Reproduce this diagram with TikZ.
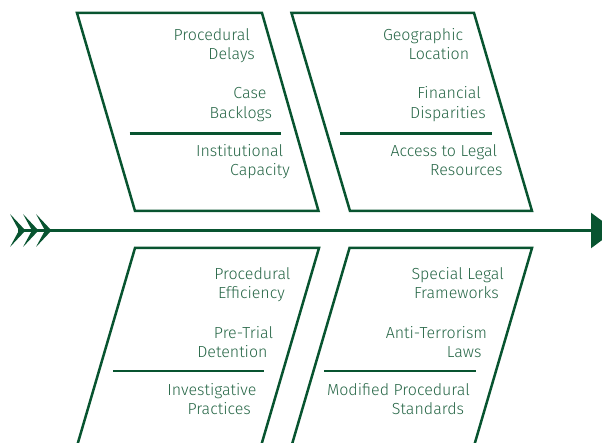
\documentclass[tikz,border=0pt]{standalone}
\usepackage{fontspec}
\setmainfont{Fira Sans}[UprightFont=* Light]
\usetikzlibrary{arrows.meta}
\definecolor{ln}{RGB}{8,84,48}
\definecolor{tx}{RGB}{38,102,70}
\tikzset{
  box/.style={draw=ln, line width=2.5pt, line join=miter},
  divider/.style={draw=ln, line width=2.5pt},
  lbl/.style={anchor=base east, inner sep=0pt, text=tx, font=\fontsize{16}{19}\selectfont},
  chev/.style={fill=ln, draw=none},
}
\begin{document}
\begin{tikzpicture}[x=1pt,y=-1pt]
\useasboundingbox (0,0) rectangle (602,443);
% category boxes
\draw[box] (77,13) -- (262,13) -- (318.5,211) -- (135,211) -- cycle;
\draw[box] (291.5,13) -- (474,13) -- (532,211) -- (350,211) -- cycle;
\draw[box] (135,248) -- (319,248) -- (261,446) -- (77,446) -- cycle;
\draw[box] (349.5,248) -- (532,248) -- (474,446) -- (291.5,446) -- cycle;
% dividers
\coordinate (d1a) at (129.5,133.3); \coordinate (d1b) at (280.7,133.3);
\coordinate (d2a) at (340,133.3);   \coordinate (d2b) at (491.7,133.3);
\coordinate (d3a) at (113,371);     \coordinate (d3b) at (264,371);
\coordinate (d4a) at (324,371);     \coordinate (d4b) at (475.7,371);
\draw[divider] (d1a) -- (d1b);
\draw[divider] (d2a) -- (d2b);
\draw[divider] (d3a) -- (d3b);
\draw[divider] (d4a) -- (d4b);
% spine
\coordinate (tail) at (18,230.5);
\coordinate (head) at (615,230.5);
\draw[ln, line width=2.5pt, -{Triangle[length=24pt,width=35pt]}] (tail) -- (head);
\foreach \x in {10,23,36}{
  \fill[chev] (\x,214) -- (\x+15.5,230.5) -- (\x,247) -- (\x+9,230.5) -- cycle;
}
% top-left labels
\node[lbl] (tl1) at (250,40.7) {Procedural};
\node[lbl] (tl2) at (255,60) {Delays};
\node[lbl] (tl3) at (266.7,99) {Case};
\node[lbl] (tl4) at (272.3,118.3) {Backlogs};
\node[lbl] (tl5) at (283.3,156.7) {Institutional};
\node[lbl] (tl6) at (290,175.7) {Capacity};
% top-right labels
\node[lbl] (tr1) at (463.3,40.7) {Geographic};
\node[lbl] (tr2) at (469.3,60) {Location};
\node[lbl] (tr3) at (481,99) {Financial};
\node[lbl] (tr4) at (486,118.3) {Disparities};
\node[lbl] (tr5) at (497.3,156.7) {Access to Legal};
\node[lbl] (tr6) at (502.7,175.7) {Resources};
% bottom-left labels
\node[lbl] (bl1) at (290.7,280) {Procedural};
\node[lbl] (bl2) at (285,299) {Efficiency};
\node[lbl] (bl3) at (273.3,338) {Pre-Trial};
\node[lbl] (bl4) at (267.7,357.3) {Detention};
\node[lbl] (bl5) at (256.7,395.7) {Investigative};
\node[lbl] (bl6) at (251,414.7) {Practices};
% bottom-right labels
\node[lbl] (br1) at (504,280) {Special Legal};
\node[lbl] (br2) at (499,299) {Frameworks};
\node[lbl] (br3) at (487.3,338) {Anti-Terrorism};
\node[lbl] (br4) at (481.7,357.3) {Laws};
\node[lbl] (br5) at (470,395.7) {Modified Procedural};
\node[lbl] (br6) at (464.3,414.7) {Standards};
\end{tikzpicture}
\end{document}
